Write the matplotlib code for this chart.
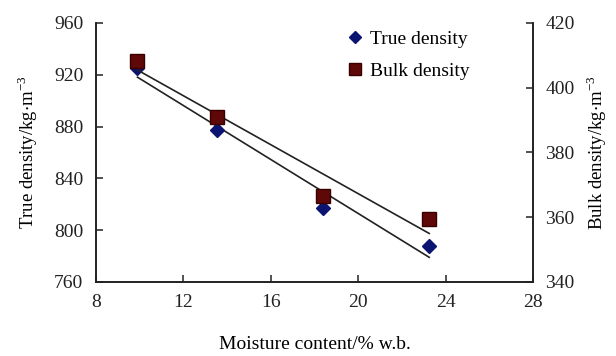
import numpy as np
import matplotlib
matplotlib.use("Agg")
import matplotlib.pyplot as plt

plt.rcParams['font.family'] = ['Liberation Serif', 'DejaVu Serif']
plt.rcParams['mathtext.fontset'] = 'stix'

# moisture content (% w.b.)
moisture = [9.9, 13.56, 18.38, 23.25]
true_density = [925.0, 877.0, 817.0, 788.0]
bulk_density = [408.3, 391.1, 366.7, 359.4]

x_ticks = [8, 12, 16, 20, 24, 28]
left_ticks = [760, 800, 840, 880, 920, 960]
right_ticks = [340, 360, 380, 400, 420]

fig = plt.figure(figsize=(6.16, 3.56), dpi=100)
ax = fig.add_axes([0.1558, 0.2079, 0.7095, 0.7275])
ax2 = ax.twinx()

navy = '#0b1470'
maroon = '#5e0808'
fs = 14

# linear fits over the data range
xs = np.array([moisture[0], moisture[-1]])
p1 = np.polyfit(moisture, true_density, 1)
p2 = np.polyfit(moisture, bulk_density, 1)
ax.plot(xs, np.polyval(p1, xs), color='#222222', lw=1.2, zorder=2)
ax2.plot(xs, np.polyval(p2, xs), color='#222222', lw=1.2, zorder=2)

h1, = ax.plot(moisture, true_density, 'D', color=navy, ms=7.5, mec=navy,
              ls='none', zorder=3, label='True density')
h2, = ax2.plot(moisture, bulk_density, 's', color=maroon, ms=10, mec='#3a0000',
               ls='none', zorder=3, label='Bulk density')

ax.set_xlim(8, 28)
ax.set_ylim(760, 960)
ax2.set_ylim(340, 420)
ax.set_xticks(x_ticks)
ax.set_yticks(left_ticks)
ax2.set_yticks(right_ticks)

for a in (ax, ax2):
    a.spines['top'].set_visible(False)
    for s in a.spines.values():
        s.set_linewidth(1.2)
        s.set_color('#222222')
ax.tick_params(axis='both', direction='in', length=5, width=1.1, labelsize=fs, pad=9, colors='#222222')
ax2.tick_params(axis='y', direction='in', length=5, width=1.1, labelsize=fs, pad=9, colors='#222222')
ax.tick_params(axis='x', pad=9)

ax.set_xlabel('Moisture content/% w.b.', fontsize=fs, labelpad=18)
ax.set_ylabel(r'True density/kg$\cdot$m$^{\mathregular{-3}}$', fontsize=13.5, labelpad=10)
ax2.set_ylabel(r'Bulk density/kg$\cdot$m$^{\mathregular{-3}}$', fontsize=13.5, labelpad=7)

ax2.legend(handles=[h1, h2], loc='upper left', bbox_to_anchor=(0.53, 1.04),
           frameon=False, fontsize=fs, handletextpad=0.3, labelspacing=0.75,
           handlelength=1.0, markerscale=0.85)

fig.savefig('out.png', dpi=100)
